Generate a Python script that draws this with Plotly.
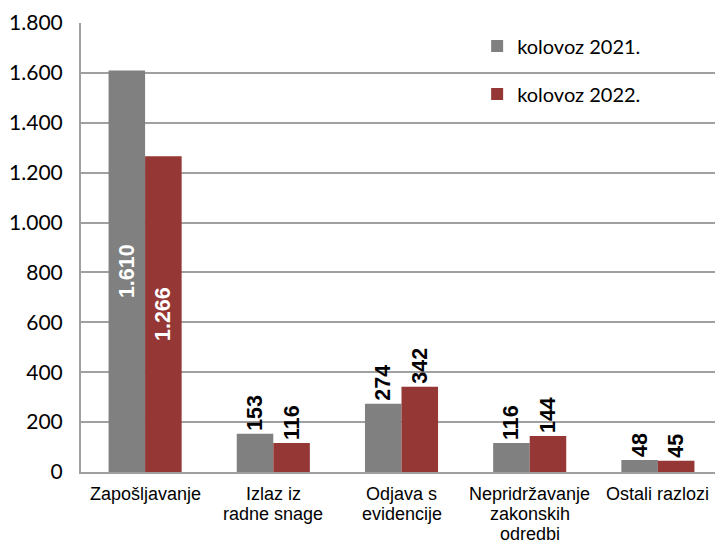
import plotly.graph_objects as go

categories = ["Zapošljavanje", "Izlaz iz<br>radne snage", "Odjava s<br>evidencije",
              "Nepridržavanje<br>zakonskih<br>odredbi", "Ostali razlozi"]
series_names = ["kolovoz 2021.", "kolovoz 2022."]
values_2021 = [1610, 153, 274, 116, 48]
values_2022 = [1266, 116, 342, 144, 45]
tick_vals = [0, 200, 400, 600, 800, 1000, 1200, 1400, 1600, 1800]
tick_text = ["0", "200", "400", "600", "800", "1.000", "1.200", "1.400", "1.600", "1.800"]

colors = ["#808080", "#953735"]

def fmt(v):
    return f"{v:,}".replace(",", ".")

LABEL_FONT = "Liberation Sans, Arial"

fig = go.Figure()
for i, (name, vals) in enumerate(zip(series_names, [values_2021, values_2022])):
    positions = ["inside" if v > 1000 else "outside" for v in vals]
    fig.add_trace(go.Bar(
        x=categories, y=vals, name=name,
        marker=dict(color=colors[i], line=dict(width=0)),
        text=[fmt(v) for v in vals],
        textposition=positions,
        textangle=-90,
        insidetextanchor="middle",
        constraintext="none",
        outsidetextfont=dict(family=LABEL_FONT, size=21.5, color="black", weight="bold"),
        insidetextfont=dict(family=LABEL_FONT, size=21.5, color="white", weight="bold"),
        cliponaxis=False,
        legendgroup=f"g{i}",
    ))

# category labels, one annotation per line for tight line spacing
for cat in categories:
    for j, line in enumerate(cat.split("<br>")):
        fig.add_annotation(x=cat, xref="x", y=0, yref="paper",
                           text=line, showarrow=False,
                           xanchor="center", yanchor="middle",
                           yshift=-22 - j * 20.2,
                           font=dict(family=LABEL_FONT, size=18, color="black"))

fig.update_layout(
    width=722, height=543,
    margin=dict(l=81, r=0, t=23, b=71),
    paper_bgcolor="white", plot_bgcolor="white",
    barmode="group", bargap=0.43, bargroupgap=0,
    showlegend=True,
    legend=dict(x=0.618, y=0.992, xanchor="left", yanchor="top",
                bgcolor="rgba(0,0,0,0)", traceorder="grouped", tracegroupgap=19,
                font=dict(family="Lato, Carlito, Calibri", size=20, color="black"),
                itemwidth=30),
    xaxis=dict(showline=True, linecolor="#a0a0a0", linewidth=2, ticks="",
               automargin=False, showticklabels=False),
    yaxis=dict(range=[0, 1800], tickvals=tick_vals, ticktext=tick_text,
               automargin=False,
               showline=True, linecolor="#a0a0a0", linewidth=2,
               showgrid=True, gridcolor="#a0a0a0", gridwidth=1.5,
               ticks="", ticklabelstandoff=12,
               tickfont=dict(family="Lato, Carlito, Calibri", size=21, color="black"),
               zeroline=False),
)

fig.write_html("out.html", config={"displayModeBar": False},
               post_script="document.body.style.margin='0';document.body.style.overflow='hidden';document.documentElement.style.overflow='hidden';")
